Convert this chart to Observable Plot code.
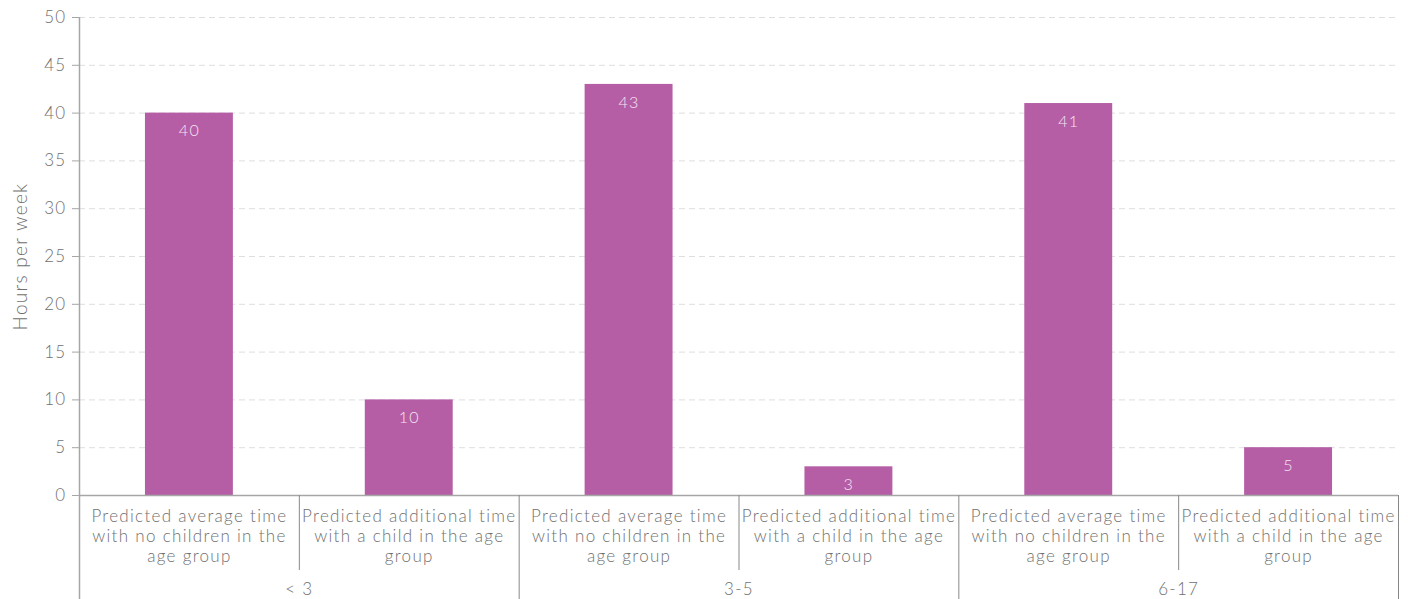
<!DOCTYPE html>
<html>
<head>
<meta charset="utf-8">
<script src="https://cdn.jsdelivr.net/npm/d3@7"></script>
<script src="https://cdn.jsdelivr.net/npm/@observablehq/plot@0.6"></script>
<style>
  html, body { margin: 0; padding: 0; background: #fff; }
  #chart svg { display: block; }
  #chart svg text { letter-spacing: 1.3px; }
</style>
</head>
<body>
<div id="chart"></div>
<script>
const categories = [
  "Predicted average time\nwith no children in the\nage group",
  "Predicted additional time\nwith a child in the age\ngroup",
  "Predicted average time\nwith no children in the\nage group",
  "Predicted additional time\nwith a child in the age\ngroup",
  "Predicted average time\nwith no children in the\nage group",
  "Predicted additional time\nwith a child in the age\ngroup"
];
const groups = ["< 3", "3-5", "6-17"];
const values = [40, 10, 43, 3, 41, 5];
const yTicks = [0, 5, 10, 15, 20, 25, 30, 35, 40, 45, 50];
const yLabel = "Hours per week";

const rows = values.map((v, i) => ({i, value: v, label: categories[i], group: groups[Math.floor(i / 2)]}));
const groupRows = groups.map((g, k) => ({k, name: g}));
const innerSeps = [1, 3, 5];
const groupSeps = [2, 4, 6];

const font = "Lato, 'Open Sans', sans-serif";
const gray = "#707070";
const lineGray = "#a6a6a6";

const chart = Plot.plot({
  width: 1408,
  height: 599,
  marginLeft: 79,
  marginRight: 10,
  marginTop: 17,
  marginBottom: 104,
  style: {fontFamily: font, fontWeight: 300, color: gray, background: "#fff"},
  x: {type: "linear", domain: [0, 6], axis: null},
  y: {domain: [0, 50], axis: null},
  marks: [
    Plot.gridY(yTicks, {stroke: "#dedede", strokeOpacity: 1, strokeDasharray: "6,4"}),
    Plot.rectY(rows, {x1: d => d.i + 0.3, x2: d => d.i + 0.7, y1: 0, y2: "value", fill: "#b55ea5"}),
    Plot.text(rows, {x: d => d.i + 0.5, y: "value", text: d => String(d.value), dy: 18, lineAnchor: "middle", fill: "#f6e4f2", fontSize: 16}),
    Plot.axisY({ticks: yTicks, tickSize: 7, tickPadding: 6, fontSize: 17, stroke: lineGray, label: null, fill: gray}),
    Plot.ruleX([0], {stroke: lineGray, strokeWidth: 1.5, insetBottom: -104}),
    Plot.ruleY([0], {stroke: lineGray, strokeWidth: 1.5}),
    Plot.ruleX(innerSeps, {y1: 0, y2: 0, insetBottom: -75, stroke: "#888", strokeWidth: 1}),
    Plot.ruleX(groupSeps, {y1: 0, y2: 0, insetBottom: -104, stroke: "#888", strokeWidth: 1}),
    Plot.text(rows, {x: d => d.i + 0.5, y: 0, text: "label", lineAnchor: "top", dy: 12, fontSize: 17, lineHeight: 1.18, fill: gray}),
    Plot.text(groupRows, {x: d => d.k * 2 + 1, y: 0, text: "name", lineAnchor: "middle", dy: 94, fontSize: 17, fill: gray}),
    Plot.text([yLabel], {frameAnchor: "left", dx: -59, rotate: -90, text: d => d, lineAnchor: "middle", textAnchor: "middle", fontSize: 19, fill: gray})
  ]
});
document.getElementById("chart").appendChild(chart);
</script>
</body>
</html>
